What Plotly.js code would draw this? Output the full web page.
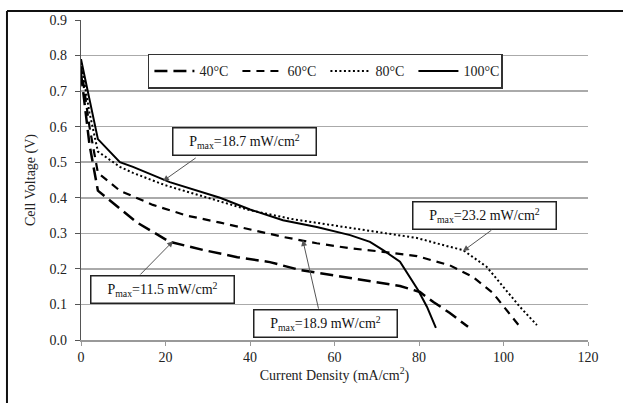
<!DOCTYPE html>
<html>
<head>
<meta charset="utf-8">
<script src="https://cdn.plot.ly/plotly-3.0.1.min.js"></script>
<style>
html,body{margin:0;padding:0;background:#fff;}
#chart{width:623px;height:403px;}
</style>
</head>
<body>
<div id="chart"></div>
<script>
// Series data
var seriesNames = ['40°C', '60°C', '80°C', '100°C'];

var x40 = [0, 1, 2, 4, 7.6, 13.3, 21, 29, 37, 44.7, 51.8, 63.7, 75.5, 80.2, 83.4, 87.3, 91.6];
var y40 = [0.75, 0.65, 0.55, 0.42, 0.385, 0.33, 0.276, 0.253, 0.233, 0.219, 0.197, 0.174, 0.152, 0.135, 0.107, 0.076, 0.037];

var x60 = [0, 2, 4, 9.2, 17, 25, 33, 40.7, 47.8, 55.8, 63.7, 71.5, 79.5, 87.3, 92.8, 97.5, 100.8, 103.9];
var y60 = [0.77, 0.6, 0.47, 0.42, 0.38, 0.35, 0.33, 0.31, 0.29, 0.272, 0.258, 0.248, 0.236, 0.21, 0.177, 0.132, 0.084, 0.037];

var x80 = [0, 2, 4, 9.2, 12.3, 20, 30, 40, 50, 63.7, 71.5, 79.5, 87.3, 90.4, 96, 99.9, 103.9, 107.9];
var y80 = [0.78, 0.64, 0.53, 0.487, 0.47, 0.435, 0.40, 0.365, 0.34, 0.315, 0.30, 0.287, 0.262, 0.253, 0.206, 0.15, 0.093, 0.042];

var x100 = [0, 4, 9.2, 12.3, 21, 32.9, 40, 47.8, 55.8, 63.7, 68.4, 71.5, 75.5, 77.9, 79.8, 81.9, 84];
var y100 = [0.79, 0.565, 0.50, 0.487, 0.444, 0.40, 0.367, 0.337, 0.318, 0.295, 0.276, 0.253, 0.22, 0.177, 0.14, 0.093, 0.034];

// Annotation texts
var pmaxLabels = ['18.7', '11.5', '18.9', '23.2'];

var FONT = '"Liberation Serif", "Times New Roman", serif';

var traces = [
  {x: x40, y: y40, name: seriesNames[0], mode: 'lines', line: {color: '#000', width: 2.5, dash: '13px,6px'}},
  {x: x60, y: y60, name: seriesNames[1], mode: 'lines', line: {color: '#000', width: 2.2, dash: '8px,6px'}},
  {x: x80, y: y80, name: seriesNames[2], mode: 'lines', line: {color: '#000', width: 2, dash: '2px,2.5px'}},
  {x: x100, y: y100, name: seriesNames[3], mode: 'lines', line: {color: '#000', width: 2}}
];

function pText(v) { return 'P<sub>max</sub>=' + v + ' mW/cm<sup>2</sup>'; }

var boxStyle = {
  showarrow: false, xref: 'x', yref: 'y',
  bgcolor: '#fff', bordercolor: '#222', borderwidth: 1.5, borderpad: 3,
  width: 136, height: 20,
  font: {family: FONT, size: 14, color: '#111'}
};
function box(x, y, t) { return Object.assign({x: x, y: y, text: pText(t)}, boxStyle); }
function arrow(hx, hy, tx, ty) {
  return {x: hx, y: hy, ax: tx, ay: ty, xref: 'x', yref: 'y', axref: 'x', ayref: 'y',
    text: '', showarrow: true, arrowhead: 2, arrowsize: 1.2, arrowwidth: 1, arrowcolor: '#555'};
}

var annotations = [
  box(38.6, 0.557, pmaxLabels[0]),
  box(19.3, 0.141, pmaxLabels[1]),
  box(57.8, 0.046, pmaxLabels[2]),
  box(95.5, 0.35, pmaxLabels[3]),
  arrow(19.4, 0.447, 27.5, 0.515),
  arrow(21.8, 0.278, 13.7, 0.18),
  arrow(52.5, 0.281, 56.3, 0.084),
  arrow(90.4, 0.25, 97.5, 0.312)
];

var layout = {
  width: 623, height: 403,
  margin: {l: 81, r: 35, t: 20, b: 63},
  paper_bgcolor: '#fff', plot_bgcolor: '#fff',
  font: {family: FONT, size: 14, color: '#222'},
  showlegend: true,
  legend: {
    orientation: 'h', x: 0.132, y: 0.894, xanchor: 'left', yanchor: 'top',
    bgcolor: '#fff', bordercolor: '#333', borderwidth: 1.5,
    font: {family: FONT, size: 14, color: '#222'},
    entrywidth: 33, entrywidthmode: 'pixels', itemwidth: 40, tracegroupgap: 0
  },
  xaxis: {
    range: [0, 120], dtick: 20, tick0: 0,
    showgrid: false, zeroline: false,
    showline: true, linecolor: '#999', linewidth: 1.5,
    ticks: 'outside', ticklen: 4, tickcolor: '#999', tickwidth: 1,
    tickfont: {family: FONT, size: 14, color: '#222'},
    title: {text: 'Current Density (mA/cm<sup>2</sup>)', font: {family: FONT, size: 14, color: '#222'}, standoff: 5}
  },
  yaxis: {
    range: [0, 0.9], dtick: 0.1, tick0: 0, tickformat: '.1f',
    showgrid: true, gridcolor: '#aaa', gridwidth: 1.5, zeroline: false,
    showline: true, linecolor: '#555', linewidth: 1.2,
    ticks: 'outside', ticklen: 5, tickcolor: '#555', tickwidth: 1,
    ticklabelstandoff: 5,
    tickfont: {family: FONT, size: 14, color: '#222'},
    title: {text: 'Cell Voltage (V)', font: {family: FONT, size: 14, color: '#222'}, standoff: 10}
  },
  annotations: annotations,
  shapes: [
    {type: 'line', xref: 'paper', yref: 'paper', x0: -0.146, x1: 1.07, y0: 1.028, y1: 1.028, line: {color: '#111', width: 2}},
    {type: 'line', xref: 'paper', yref: 'paper', x0: -0.146, x1: -0.146, y0: 1.028, y1: -0.2, line: {color: '#111', width: 2}}
  ]
};

Plotly.newPlot('chart', traces, layout, {displayModeBar: false, staticPlot: true});
</script>
</body>
</html>
